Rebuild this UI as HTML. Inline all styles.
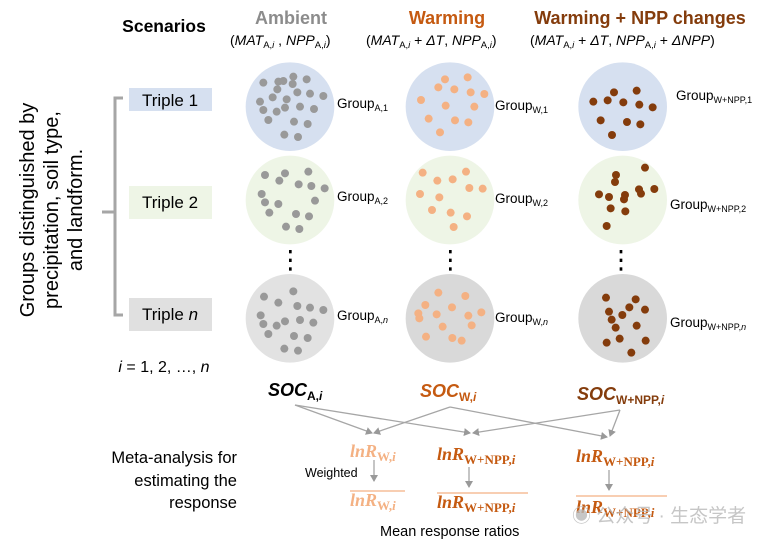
<!DOCTYPE html>
<html><head><meta charset="utf-8"><style>
html,body{margin:0;padding:0;background:#fff}
svg{display:block;font-family:"Liberation Sans","Noto Sans CJK SC",sans-serif}
.s{font-family:"Liberation Serif",serif;font-weight:bold;font-style:italic}
.u{font-style:normal}
</style></head><body>
<svg width="771" height="545" viewBox="0 0 771 545" xmlns="http://www.w3.org/2000/svg">
<defs><marker id="ar" markerWidth="8" markerHeight="8" refX="6" refY="4" orient="auto" markerUnits="userSpaceOnUse"><path d="M0,0 L7,4 L0,8 Z" fill="#999"/></marker></defs>
<!-- headers -->
<text x="164" y="32" font-size="17.5" font-weight="bold" text-anchor="middle" fill="#000">Scenarios</text>
<text x="291" y="24" font-size="18" font-weight="bold" text-anchor="middle" fill="#8c8c8c">Ambient</text>
<text x="447" y="24" font-size="18" font-weight="bold" text-anchor="middle" fill="#c55a11">Warming</text>
<text x="640" y="24" font-size="18" font-weight="bold" text-anchor="middle" fill="#843c0c">Warming + NPP changes</text>
<g font-size="14" fill="#000">
<text x="230" y="45">(<tspan font-style="italic">MAT</tspan><tspan font-size="9.5" dy="3">A,<tspan font-style="italic">i</tspan></tspan><tspan dy="-3"> , </tspan><tspan font-style="italic">NPP</tspan><tspan font-size="9.5" dy="3">A,<tspan font-style="italic">i</tspan></tspan><tspan dy="-3">)</tspan></text>
<text x="366" y="45">(<tspan font-style="italic">MAT</tspan><tspan font-size="9.5" dy="3">A,<tspan font-style="italic">i</tspan></tspan><tspan dy="-3"> + </tspan><tspan font-style="italic">ΔT</tspan>, <tspan font-style="italic">NPP</tspan><tspan font-size="9.5" dy="3">A,<tspan font-style="italic">i</tspan></tspan><tspan dy="-3">)</tspan></text>
<text x="530" y="45">(<tspan font-style="italic">MAT</tspan><tspan font-size="9.5" dy="3">A,<tspan font-style="italic">i</tspan></tspan><tspan dy="-3"> + </tspan><tspan font-style="italic">ΔT</tspan>, <tspan font-style="italic">NPP</tspan><tspan font-size="9.5" dy="3">A,<tspan font-style="italic">i</tspan></tspan><tspan dy="-3"> + </tspan><tspan font-style="italic">ΔNPP</tspan>)</text>
</g>
<!-- left -->
<g font-size="20" fill="#000" text-anchor="middle">
<text transform="translate(34,210) rotate(-90)">Groups distinguished by</text>
<text transform="translate(58,210) rotate(-90)">precipitation, soil type,</text>
<text transform="translate(82,210) rotate(-90)">and landform.</text>
</g>
<path d="M123,98 H115 V315 H123 M102,212 H115" stroke="#a6a6a6" stroke-width="3" fill="none"/>
<rect x="129" y="88" width="83" height="23" fill="#d6e0f0"/>
<rect x="129" y="186" width="83" height="33" fill="#eef5e6"/>
<rect x="129" y="298" width="83" height="33" fill="#e0e0e0"/>
<g font-size="17" fill="#000" text-anchor="middle">
<text x="170" y="106">Triple 1</text>
<text x="170" y="208">Triple 2</text>
<text x="170" y="320">Triple <tspan font-style="italic">n</tspan></text>
</g>
<text x="164" y="372" font-size="16" text-anchor="middle"><tspan font-style="italic">i</tspan> = 1, 2, …, <tspan font-style="italic">n</tspan></text>
<!-- circles and dots -->
<g transform="translate(240,60) scale(0.33333)">
<circle cx="150" cy="140" r="133" fill="#d6e0f0"/><circle cx="630" cy="140" r="133" fill="#d6e0f0"/><circle cx="1148" cy="140" r="133" fill="#d6e0f0"/>
<circle cx="150" cy="420" r="133" fill="#eef5e6"/><circle cx="630" cy="420" r="133" fill="#eef5e6"/><circle cx="1148" cy="420" r="133" fill="#eef5e6"/>
<circle cx="150" cy="775" r="133" fill="#e2e2e2"/><circle cx="630" cy="775" r="133" fill="#d9d9d9"/><circle cx="1148" cy="775" r="133" fill="#d9d9d9"/>
<g fill="#999">
<circle cx="70" cy="68" r="12"/><circle cx="115" cy="65" r="12"/><circle cx="130" cy="63" r="12"/><circle cx="160" cy="50" r="12"/><circle cx="200" cy="58" r="12"/><circle cx="158" cy="72" r="12"/><circle cx="112" cy="88" r="12"/><circle cx="172" cy="97" r="12"/><circle cx="210" cy="101" r="12"/><circle cx="250" cy="108" r="12"/><circle cx="98" cy="112" r="12"/><circle cx="140" cy="118" r="12"/><circle cx="60" cy="125" r="12"/><circle cx="180" cy="140" r="12"/><circle cx="135" cy="143" r="12"/><circle cx="222" cy="147" r="12"/><circle cx="70" cy="150" r="12"/><circle cx="110" cy="155" r="12"/><circle cx="85" cy="180" r="12"/><circle cx="162" cy="185" r="12"/><circle cx="203" cy="192" r="12"/><circle cx="133" cy="224" r="12"/><circle cx="174" cy="231" r="12"/>
<circle cx="75" cy="345" r="12"/><circle cx="135" cy="340" r="12"/><circle cx="205" cy="335" r="12"/><circle cx="118" cy="362" r="12"/><circle cx="176" cy="373" r="12"/><circle cx="214" cy="378" r="12"/><circle cx="254" cy="385" r="12"/><circle cx="65" cy="402" r="12"/><circle cx="225" cy="422" r="12"/><circle cx="75" cy="427" r="12"/><circle cx="115" cy="432" r="12"/><circle cx="88" cy="458" r="12"/><circle cx="168" cy="462" r="12"/><circle cx="207" cy="469" r="12"/><circle cx="138" cy="500" r="12"/><circle cx="178" cy="507" r="12"/>
<circle cx="72" cy="710" r="12"/><circle cx="160" cy="694" r="12"/><circle cx="115" cy="728" r="12"/><circle cx="172" cy="738" r="12"/><circle cx="210" cy="743" r="12"/><circle cx="250" cy="750" r="12"/><circle cx="62" cy="766" r="12"/><circle cx="135" cy="784" r="12"/><circle cx="180" cy="780" r="12"/><circle cx="220" cy="788" r="12"/><circle cx="70" cy="792" r="12"/><circle cx="110" cy="797" r="12"/><circle cx="85" cy="822" r="12"/><circle cx="162" cy="828" r="12"/><circle cx="203" cy="834" r="12"/><circle cx="133" cy="866" r="12"/><circle cx="174" cy="872" r="12"/>
</g>
<g fill="#f4b183">
<circle cx="615" cy="58" r="12"/><circle cx="683" cy="52" r="12"/><circle cx="595" cy="82" r="12"/><circle cx="643" cy="88" r="12"/><circle cx="692" cy="97" r="12"/><circle cx="733" cy="102" r="12"/><circle cx="543" cy="120" r="12"/><circle cx="617" cy="137" r="12"/><circle cx="703" cy="140" r="12"/><circle cx="566" cy="176" r="12"/><circle cx="645" cy="181" r="12"/><circle cx="685" cy="187" r="12"/><circle cx="600" cy="217" r="12"/>
<circle cx="548" cy="338" r="12"/><circle cx="678" cy="335" r="12"/><circle cx="592" cy="362" r="12"/><circle cx="638" cy="358" r="12"/><circle cx="688" cy="384" r="12"/><circle cx="728" cy="386" r="12"/><circle cx="540" cy="402" r="12"/><circle cx="598" cy="412" r="12"/><circle cx="576" cy="450" r="12"/><circle cx="632" cy="458" r="12"/><circle cx="681" cy="469" r="12"/><circle cx="641" cy="501" r="12"/>
<circle cx="595" cy="698" r="12"/><circle cx="676" cy="708" r="12"/><circle cx="556" cy="735" r="12"/><circle cx="636" cy="742" r="12"/><circle cx="535" cy="760" r="12"/><circle cx="590" cy="763" r="12"/><circle cx="538" cy="775" r="12"/><circle cx="685" cy="767" r="12"/><circle cx="724" cy="757" r="12"/><circle cx="608" cy="800" r="12"/><circle cx="695" cy="796" r="12"/><circle cx="558" cy="830" r="12"/><circle cx="637" cy="834" r="12"/><circle cx="665" cy="842" r="12"/>
</g>
<g fill="#843c0c">
<circle cx="1122" cy="97" r="12"/><circle cx="1190" cy="92" r="12"/><circle cx="1060" cy="125" r="12"/><circle cx="1103" cy="121" r="12"/><circle cx="1150" cy="127" r="12"/><circle cx="1198" cy="134" r="12"/><circle cx="1238" cy="142" r="12"/><circle cx="1082" cy="181" r="12"/><circle cx="1161" cy="186" r="12"/><circle cx="1201" cy="193" r="12"/><circle cx="1116" cy="225" r="12"/>
<circle cx="1215" cy="323" r="12"/><circle cx="1128" cy="345" r="12"/><circle cx="1125" cy="366" r="12"/><circle cx="1077" cy="403" r="12"/><circle cx="1107" cy="411" r="12"/><circle cx="1155" cy="405" r="12"/><circle cx="1152" cy="418" r="12"/><circle cx="1197" cy="388" r="12"/><circle cx="1203" cy="401" r="12"/><circle cx="1243" cy="387" r="12"/><circle cx="1112" cy="445" r="12"/><circle cx="1156" cy="454" r="12"/><circle cx="1100" cy="498" r="12"/>
<circle cx="1098" cy="713" r="12"/><circle cx="1187" cy="718" r="12"/><circle cx="1168" cy="742" r="12"/><circle cx="1215" cy="749" r="12"/><circle cx="1107" cy="755" r="12"/><circle cx="1147" cy="765" r="12"/><circle cx="1115" cy="779" r="12"/><circle cx="1127" cy="803" r="12"/><circle cx="1190" cy="797" r="12"/><circle cx="1139" cy="836" r="12"/><circle cx="1217" cy="842" r="12"/><circle cx="1100" cy="848" r="12"/><circle cx="1174" cy="878" r="12"/>
</g>
<g fill="#000"><rect x="147" y="570" width="8" height="10"/><rect x="147" y="596" width="8" height="10"/><rect x="147" y="622" width="8" height="10"/>
<rect x="627" y="570" width="8" height="10"/><rect x="627" y="596" width="8" height="10"/><rect x="627" y="622" width="8" height="10"/>
<rect x="1139" y="570" width="8" height="10"/><rect x="1139" y="596" width="8" height="10"/><rect x="1139" y="622" width="8" height="10"/></g>
</g>
<!-- group labels -->
<g font-size="13.5" fill="#000">
<text x="337" y="108">Group<tspan font-size="9" dy="3">A,1</tspan></text>
<text x="337" y="201">Group<tspan font-size="9" dy="3">A,2</tspan></text>
<text x="337" y="320">Group<tspan font-size="9" dy="3">A,<tspan font-style="italic">n</tspan></tspan></text>
<text x="495" y="110">Group<tspan font-size="9" dy="3">W,1</tspan></text>
<text x="495" y="203">Group<tspan font-size="9" dy="3">W,2</tspan></text>
<text x="495" y="322">Group<tspan font-size="9" dy="3">W,<tspan font-style="italic">n</tspan></tspan></text>
<text x="676" y="100">Group<tspan font-size="9" dy="3">W+NPP,1</tspan></text>
<text x="670" y="209">Group<tspan font-size="9" dy="3">W+NPP,2</tspan></text>
<text x="670" y="327">Group<tspan font-size="9" dy="3">W+NPP,<tspan font-style="italic">n</tspan></tspan></text>
</g>
<!-- SOC -->
<g font-size="18" font-weight="bold" font-style="italic">
<text x="268" y="396" fill="#000">SOC<tspan font-size="12" dy="4" font-style="normal">A,<tspan font-style="italic">i</tspan></tspan></text>
<text x="420" y="397" fill="#c55a11">SOC<tspan font-size="12" dy="4" font-style="normal">W,<tspan font-style="italic">i</tspan></tspan></text>
<text x="577" y="400" fill="#843c0c">SOC<tspan font-size="12" dy="4" font-style="normal">W+NPP,<tspan font-style="italic">i</tspan></tspan></text>
</g>
<g stroke="#a6a6a6" stroke-width="1.3" fill="none" marker-end="url(#ar)">
<line x1="295" y1="405" x2="372" y2="433"/>
<line x1="295" y1="405" x2="470" y2="433"/>
<line x1="450" y1="407" x2="374" y2="433"/>
<line x1="450" y1="407" x2="607" y2="437"/>
<line x1="620" y1="410" x2="473" y2="433"/>
<line x1="620" y1="410" x2="610" y2="436"/>
<line x1="374" y1="460" x2="374" y2="481"/>
<line x1="469" y1="467" x2="469" y2="487"/>
<line x1="609" y1="470" x2="609" y2="490"/>
</g>
<!-- lnR -->
<g class="s" font-size="18">
<text x="350" y="457" fill="#f4b183">lnR<tspan font-size="13" dy="4" class="u">W,<tspan font-style="italic">i</tspan></tspan></text>
<text x="437" y="460" fill="#c55a11">lnR<tspan font-size="13" dy="4" class="u">W+NPP,<tspan font-style="italic">i</tspan></tspan></text>
<text x="576" y="462" fill="#c55a11">lnR<tspan font-size="13" dy="4" class="u">W+NPP,<tspan font-style="italic">i</tspan></tspan></text>
<text x="350" y="506" fill="#f4b183">lnR<tspan font-size="13" dy="4" class="u">W,<tspan font-style="italic">i</tspan></tspan></text>
<text x="437" y="508" fill="#c55a11">lnR<tspan font-size="13" dy="4" class="u">W+NPP,<tspan font-style="italic">i</tspan></tspan></text>
<text x="576" y="513" fill="#c55a11">lnR<tspan font-size="13" dy="4" class="u">W+NPP,<tspan font-style="italic">i</tspan></tspan></text>
</g>
<line x1="350" y1="491" x2="405" y2="491" stroke="#f4b183" stroke-width="1.3"/>
<line x1="437" y1="493" x2="528" y2="493" stroke="#f4b183" stroke-width="1.3"/>
<line x1="576" y1="496" x2="667" y2="496" stroke="#f4b183" stroke-width="1.3"/>
<text x="305" y="477" font-size="12.5">Weighted</text>
<text x="380" y="536" font-size="14.5">Mean response ratios</text>
<g font-size="16.5" text-anchor="end"><text x="237" y="463">Meta-analysis for</text><text x="237" y="486">estimating the</text><text x="237" y="508">response</text></g>
<text x="572" y="522" font-size="19" fill="#b8b8b8" opacity="0.8">◉ 公众号 · 生态学者</text>
</svg>
</body></html>
